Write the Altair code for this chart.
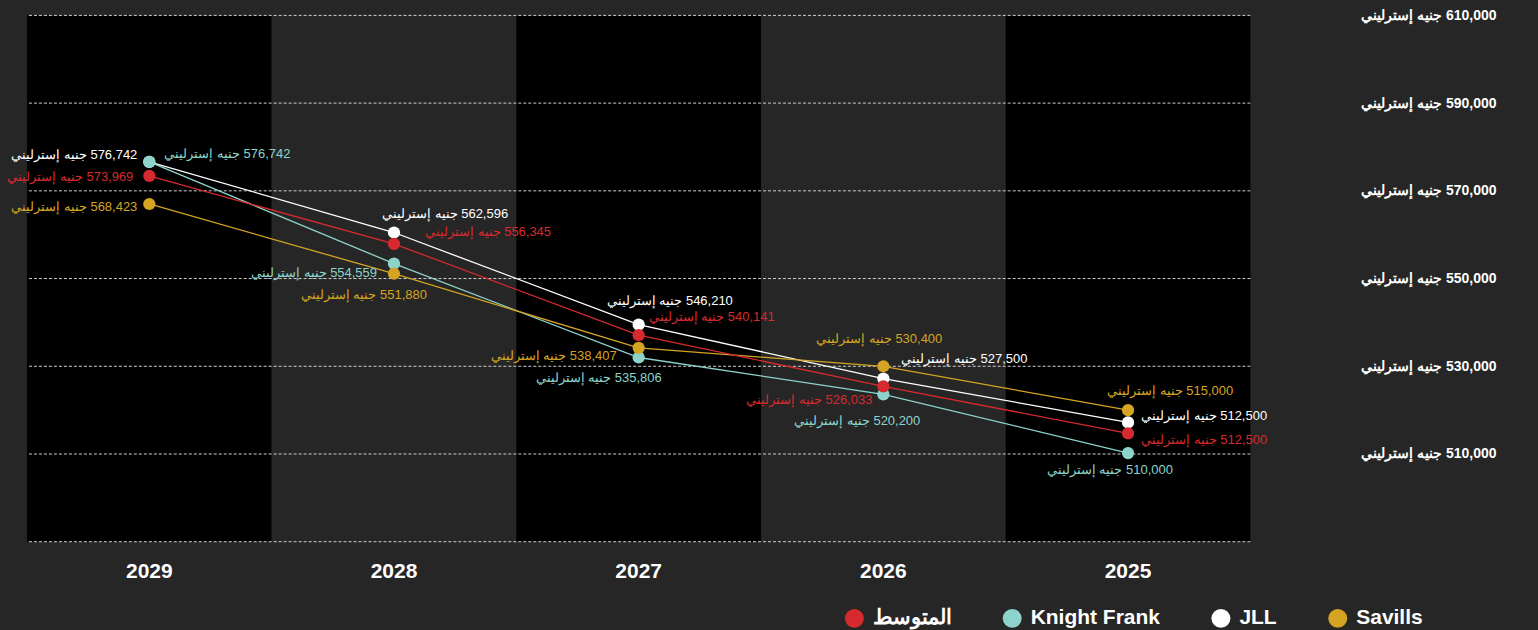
import altair as alt
import pandas as pd

# ---------------- data ----------------
YEARS = ["2029", "2028", "2027", "2026", "2025"]
SERIES = ["المتوسط", "Knight Frank", "JLL", "Savills"]
SERIES_COLORS = ["#D62A2E", "#8DD3CB", "#FFFFFF", "#D5A423"]

# vertical positions of the marks
AVG_PLOTTED = [573400, 557900, 537100, 525400, 514700]
KF_PLOTTED = [576600, 553400, 532000, 523600, 510200]
JLL_PLOTTED = [576600, 560500, 539500, 527200, 517200]
SAVILLS_PLOTTED = [567000, 551100, 534200, 530000, 520000]

# values printed in the point labels
AVG_LABELS = [573969, 556345, 540141, 526033, 512500]
KF_LABELS = [576742, 554559, 535806, 520200, 510000]
JLL_LABELS = [576742, 562596, 546210, 527500, 512500]
SAVILLS_LABELS = [568423, 551880, 538407, 530400, 515000]

Y_TICKS = [510000, 530000, 550000, 570000, 590000, 610000]
GRID_LINES = [490000, 510000, 530000, 550000, 570000, 590000, 610000]
Y_DOMAIN = [490000, 610000]
CURRENCY = "جنيه إسترليني"
LRM = "\u200e"

BAND_FILLS = ["#000000", "#262626", "#000000", "#262626", "#000000"]

# ---------------- layout of labels (align, dx, dy) ----------------
LABEL_PLACEMENT = {
    "JLL": [("right", -12, -7), ("left", -12, -19), ("left", -32, -24), ("left", 18, -20), ("left", 13, -6)],
    "Knight Frank": [("left", 15, -8), ("right", -17, 9), ("right", 23, 21), ("right", 37, 27), ("right", 45, 17)],
    "المتوسط": [("right", -16, 1), ("left", 31, -12), ("left", 10, -18), ("right", -11, 14), ("left", 13, 7)],
    "Savills": [("right", -12, 3), ("right", 33, 21), ("right", -22, 8), ("right", 59, -27), ("left", -21, -19)],
}

FONT = "Liberation Sans"
BG = "#262626"

plotted = {"المتوسط": AVG_PLOTTED, "Knight Frank": KF_PLOTTED, "JLL": JLL_PLOTTED, "Savills": SAVILLS_PLOTTED}
labels = {"المتوسط": AVG_LABELS, "Knight Frank": KF_LABELS, "JLL": JLL_LABELS, "Savills": SAVILLS_LABELS}
color_of = dict(zip(SERIES, SERIES_COLORS))

draw_order = ["JLL", "Knight Frank", "Savills", "المتوسط"]
rows = []
for s in draw_order:
    for i, y in enumerate(YEARS):
        rows.append({
            "year": y,
            "series": s,
            "pos": plotted[s][i],
            "label": CURRENCY + LRM + " " + f"{labels[s][i]:,}",
        })
df = pd.DataFrame(rows)

bands = pd.DataFrame({"year": YEARS, "fill": BAND_FILLS})
grid = pd.DataFrame({"pos": GRID_LINES})

x_scale = alt.Scale(domain=YEARS, paddingInner=0, paddingOuter=0)
y_scale = alt.Scale(domain=Y_DOMAIN, nice=False, zero=False)

x_axis = alt.Axis(
    title=None, labelAngle=0, domain=False, ticks=False, grid=False, labelPadding=19,
    labelFontSize=21, labelFontWeight="bold", labelColor="white", labelFont=FONT,
)
y_axis = alt.Axis(
    orient="right", values=Y_TICKS, title=None, grid=False, domain=False, ticks=False,
    labelPadding=246, labelAlign="right", labelBaseline="middle",
    labelFontSize=14, labelFontWeight="bold", labelColor="white", labelFont=FONT,
    labelExpr="'" + CURRENCY + LRM + " ' + format(datum.value, ',')",
)
x_enc = alt.X("year:N", scale=x_scale, sort=YEARS, axis=x_axis)
y_enc = alt.Y("pos:Q", scale=y_scale, axis=y_axis)

band_layer = alt.Chart(bands).mark_rect().encode(
    x=x_enc,
    fill=alt.Fill("fill:N", scale=None),
)

grid_layer = alt.Chart(grid).mark_rule(color="#cfcfcf", strokeDash=[3, 2], strokeWidth=1).encode(
    y=y_enc,
)

line_layers = []
for s in draw_order:
    line_layers.append(
        alt.Chart(df[df["series"] == s]).mark_line(strokeWidth=1.3, color=color_of[s]).encode(
            x=x_enc,
            y=y_enc,
        )
    )

color_scale = alt.Scale(domain=SERIES, range=SERIES_COLORS)

point_layer = alt.Chart(df).mark_circle(size=150, opacity=1).encode(
    x=x_enc,
    y=y_enc,
    color=alt.Color("series:N", scale=color_scale, legend=alt.Legend(
        orient="none", legendX=818, legendY=593, direction="horizontal", columns=4,
        title=None, symbolType="circle", symbolSize=360, symbolStrokeWidth=0, symbolOpacity=1,
        labelFont=FONT, labelFontSize=21, labelFontWeight="bold", labelColor="white",
        labelOffset=8, columnPadding=50, labelLimit=300,
    )),
)

text_layers = []
for s in SERIES:
    for i, y in enumerate(YEARS):
        align, dx, dy = LABEL_PLACEMENT[s][i]
        sub = df[(df["series"] == s) & (df["year"] == y)]
        text_layers.append(
            alt.Chart(sub).mark_text(
                align=align, baseline="middle", dx=dx, dy=dy,
                fontSize=13, font=FONT, color=color_of[s],
            ).encode(
                x=x_enc,
                y=y_enc,
                text="label:N",
            )
        )

chart = alt.layer(band_layer, grid_layer, *line_layers, point_layer, *text_layers).properties(
    width=1225,
    height=527,
    background=BG,
    padding={"left": 19, "top": 7, "right": 280, "bottom": 88},
    autosize=alt.AutoSizeParams(type="none"),
).configure(font=FONT).configure_view(stroke=None)

chart.save("out.html", embed_options={
    "renderer": "svg",
    "actions": False,
    "defaultStyle": "html,body{background:#262626;overflow:hidden;}",
})
